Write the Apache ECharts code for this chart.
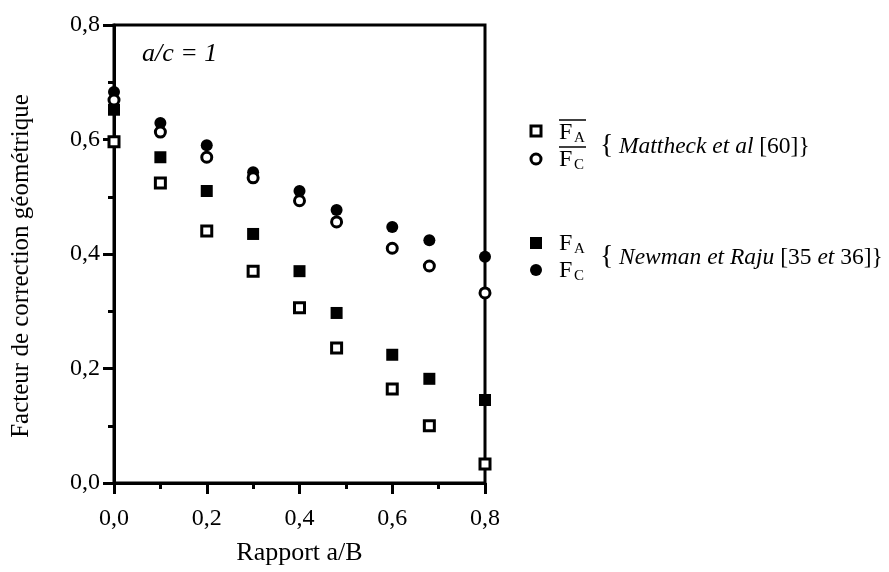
<!DOCTYPE html>
<html>
<head>
<meta charset="utf-8">
<script src="https://cdn.jsdelivr.net/npm/echarts@6/dist/echarts.min.js"></script>
<style>
    html, body { margin: 0; padding: 0; background: #fff; }
    #chart { width: 889px; height: 572px; }
</style>
</head>
<body>
<div id="chart"></div>
<script>
// rapport a/B
let ratioAB = [0, 0.1, 0.2, 0.3, 0.4, 0.48, 0.6, 0.68, 0.8];
// Mattheck et al [60] (symboles creux)
let faBar = [0.596, 0.524, 0.440, 0.370, 0.306, 0.236, 0.164, 0.100, 0.033];
let fcBar = [0.669, 0.613, 0.569, 0.533, 0.493, 0.456, 0.410, 0.379, 0.332];
// Newman et Raju [35 et 36] (symboles pleins)
let fa = [0.652, 0.569, 0.510, 0.435, 0.370, 0.297, 0.224, 0.182, 0.145];
let fc = [0.683, 0.629, 0.590, 0.543, 0.510, 0.477, 0.447, 0.424, 0.395];
let xTickLabels = ['0,0', '0,2', '0,4', '0,6', '0,8'];
let yTickLabels = ['0,0', '0,2', '0,4', '0,6', '0,8'];

let serif = '"Liberation Serif", "DejaVu Serif", serif';

function pairs(ys) {
    return ratioAB.map(function (x, i) { return [x, ys[i]]; });
}

function tickLabel(labels) {
    return function (v) {
        let idx = Math.round(v / 0.2);
        return labels[idx] !== undefined ? labels[idx] : '';
    };
}

let axisCommon = {
    type: 'value',
    min: 0,
    max: 0.8,
    interval: 0.2,
    splitLine: { show: false },
    axisLine: { show: true, onZero: false, lineStyle: { color: '#000', width: 3 } },
    axisTick: { show: true, inside: false, length: 11, lineStyle: { color: '#000', width: 3 } },
    minorTick: { show: true, splitNumber: 2, length: 6, lineStyle: { color: '#000', width: 3 } },
    nameLocation: 'middle'
};

let openStyle = { color: '#fff', borderColor: '#000', borderWidth: 3, opacity: 1 };
let fullStyle = { color: '#000', borderWidth: 0, opacity: 1 };

// petits textes de la légende (F, indice, accolade)
function txt(x, y, s, size, extra) {
    return {
        type: 'text', x: x, y: y,
        style: Object.assign({ text: s, font: size + 'px ' + serif, fill: '#000', verticalAlign: 'middle' }, extra || {})
    };
}

let richIt = { i: { fontStyle: 'italic', fontFamily: serif, fontSize: 23.5 } };

let option = {
    animation: false,
    backgroundColor: '#fff',
    grid: {
        left: 114, right: 404, top: 25, bottom: 89,
        show: true, borderColor: '#000', borderWidth: 3, backgroundColor: 'transparent'
    },
    xAxis: Object.assign({}, axisCommon, {
        name: 'Rapport a/B',
        nameGap: 57,
        nameTextStyle: { fontFamily: serif, fontSize: 26, color: '#000' },
        axisLabel: {
            formatter: tickLabel(xTickLabels), margin: 24,
            fontFamily: serif, fontSize: 24, color: '#000'
        }
    }),
    yAxis: Object.assign({}, axisCommon, {
        name: 'Facteur de correction géométrique',
        nameGap: 80,
        nameTextStyle: { fontFamily: serif, fontSize: 25, color: '#000', padding: [0, 0, 0, -24] },
        axisLabel: {
            formatter: tickLabel(yTickLabels), margin: 14,
            fontFamily: serif, fontSize: 24, color: '#000'
        }
    }),
    series: [
        { name: 'FC', type: 'scatter', symbol: 'circle', symbolSize: 12, data: pairs(fc), itemStyle: fullStyle, z: 3 },
        { name: 'FCbar', type: 'scatter', symbol: 'circle', symbolSize: 10, data: pairs(fcBar), itemStyle: openStyle, z: 4 },
        { name: 'FA', type: 'scatter', symbol: 'rect', symbolSize: 12, data: pairs(fa), itemStyle: fullStyle, z: 3 },
        { name: 'FAbar', type: 'scatter', symbol: 'rect', symbolSize: 10, data: pairs(faBar), itemStyle: openStyle, z: 4 }
    ],
    graphic: [
        {
            type: 'text', left: 142, top: 41,
            style: { text: 'a/c = 1', font: 'italic 26px ' + serif, fill: '#000' }
        },
        // légende : Mattheck et al
        { type: 'rect', shape: { x: 531, y: 126, width: 10, height: 10 }, style: { fill: '#fff', stroke: '#000', lineWidth: 3 } },
        { type: 'circle', shape: { cx: 536, cy: 159, r: 5 }, style: { fill: '#fff', stroke: '#000', lineWidth: 3 } },
        txt(559, 133, 'F', 24),
        txt(574, 138, 'A', 15),
        { type: 'line', shape: { x1: 559, y1: 120, x2: 586, y2: 120 }, style: { stroke: '#000', lineWidth: 1.5 } },
        txt(559, 160, 'F', 24),
        txt(574, 165, 'C', 15),
        { type: 'line', shape: { x1: 559, y1: 147, x2: 586, y2: 147 }, style: { stroke: '#000', lineWidth: 1.5 } },
        txt(600, 146, '{', 28),
        txt(619, 147, '{i|Mattheck et al} [60]}', 23.5, { rich: richIt }),
        // légende : Newman et Raju
        { type: 'rect', shape: { x: 530, y: 237, width: 12, height: 12 }, style: { fill: '#000' } },
        { type: 'circle', shape: { cx: 536, cy: 270, r: 6 }, style: { fill: '#000' } },
        txt(559, 244, 'F', 24),
        txt(574, 249, 'A', 15),
        txt(559, 271, 'F', 24),
        txt(574, 276, 'C', 15),
        txt(600, 257, '{', 28),
        txt(619, 258, '{i|Newman et Raju} [35 {i|et} 36]}', 23.5, { rich: richIt })
    ]
};

let chart = echarts.init(document.getElementById('chart'), null, { renderer: 'canvas' });
chart.setOption(option);
</script>
</body>
</html>
